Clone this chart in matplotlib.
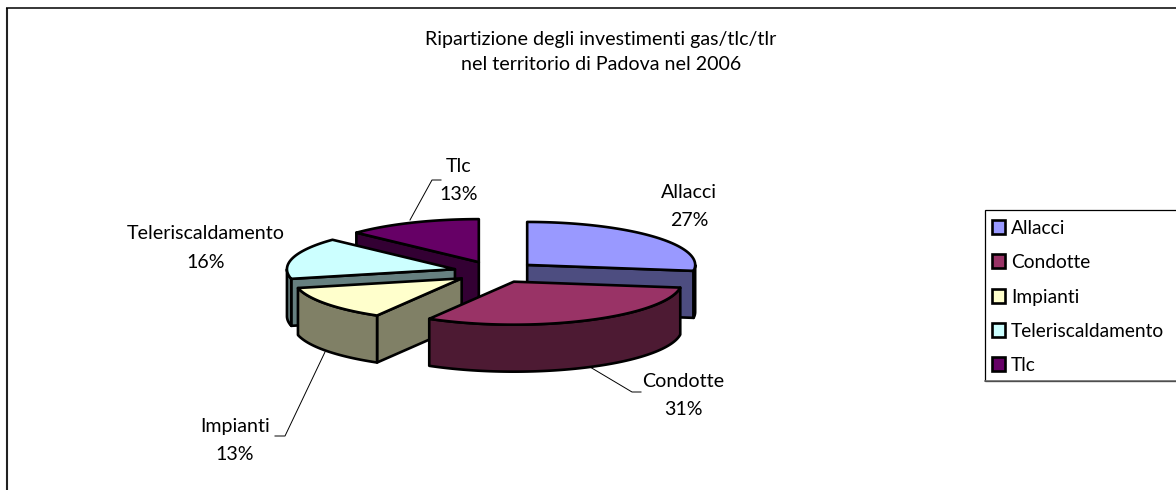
import numpy as np
import matplotlib
matplotlib.use("Agg")
import matplotlib.pyplot as plt
from matplotlib.patches import Polygon, Rectangle

plt.rcParams['font.family'] = ['Lato', 'DejaVu Sans']

title_lines = ["Ripartizione degli investimenti gas/tlc/tlr", "nel territorio di Padova nel 2006"]
categories = ["Allacci", "Condotte", "Impianti", "Teleriscaldamento", "Tlc"]
values = [27.2, 31.2, 13.0, 15.6, 13.0]
top_colors = ["#9999FF", "#993366", "#FFFFCC", "#CCFFFF", "#660066"]
side_colors = ["#4D4D80", "#4D1A33", "#808066", "#668080", "#330033"]

# layout (pixel space of the 1176x490 picture)
CX, CY, RX, RY, DEPTH, EXPLODE = 495.5, 272.0, 168.0, 43.0, 47.0, 0.25
LW = 1.9
FS = 14.1
DY = 1.5

fig = plt.figure(figsize=(11.76, 4.9), dpi=100, facecolor="white")
ax = fig.add_axes([0, 0, 1, 1])
ax.set_xlim(0, 1176)
ax.set_ylim(490, 0)
ax.axis("off")

# chart frame
ax.plot([6.5, 6.5], [490, 8], color="#222222", lw=1.5, solid_capstyle="butt")
ax.plot([6, 1176], [8, 8], color="black", lw=1.1, solid_capstyle="butt")


def rim(cx, cy, a0, a1, dz=0.0):
    """Rim points for clockwise-from-top angles (degrees)."""
    t = np.radians(np.linspace(a0, a1, max(2, int(abs(a1 - a0)) + 2)))
    return np.column_stack([cx + RX * np.sin(t), cy - RY * np.cos(t) + dz])


def draw_wedge(i, a0, a1):
    mid = np.radians((a0 + a1) / 2)
    cx = CX + EXPLODE * RX * np.sin(mid)
    cy = CY - EXPLODE * RY * np.cos(mid)
    style = dict(edgecolor="black", lw=LW, joinstyle="round")
    # cut faces turned towards the viewer
    for ang, normal in ((a0, a0 - 90), (a1, a1 + 90)):
        if np.cos(np.radians(normal)) < -1e-6:
            e = rim(cx, cy, ang, ang)[0]
            ax.add_patch(Polygon([(cx, cy), e, (e[0], e[1] + DEPTH), (cx, cy + DEPTH)],
                                 facecolor=side_colors[i], **style))
    # front outer wall
    w0, w1 = max(a0, 90), min(a1, 270)
    if w1 > w0:
        up = rim(cx, cy, w0, w1)
        down = rim(cx, cy, w0, w1, DEPTH)[::-1]
        ax.add_patch(Polygon(np.vstack([up, down]), facecolor=side_colors[i], **style))
    # top
    ax.add_patch(Polygon(np.vstack([[(cx, cy)], rim(cx, cy, a0, a1)]),
                         facecolor=top_colors[i], **style))


edges = np.concatenate([[0], np.cumsum(values)]) / sum(values) * 360
for i in [4, 3, 0, 2, 1]:
    draw_wedge(i, edges[i], edges[i + 1])

# leader lines
leaders = [([410, 432, 441], [220, 180, 180]),
           ([325, 285, 275], [352, 436, 436]),
           ([590, 632, 641], [367, 392, 392])]
for xs, ys in leaders:
    ax.plot(xs, ys, color="black", lw=0.7)

# title
ax.text(601, 38 + DY, title_lines[0], ha="center", va="center", fontsize=FS)
ax.text(601, 63 + DY, title_lines[1], ha="center", va="center", fontsize=FS)

# data labels
label_pos = [(689, 191, 219), (683, 380, 408), (235, 425, 453), (206, 232, 261), (459, 165, 193)]
for name, v, (x, y1, y2) in zip(categories, values, label_pos):
    ax.text(x, y1 + DY, name, ha="center", va="center", fontsize=FS)
    ax.text(x, y2 + DY, f"{v:.0f}%", ha="center", va="center", fontsize=FS)

# legend
ax.add_patch(Rectangle((984.5, 209.5), 200, 171, facecolor="white", edgecolor="black", lw=0.9))
ax.plot([984.5, 1176], [380.5, 380.5], color="#666666", lw=1.1)
rows = [227, 261, 296, 330, 364]
for name, c, y in zip(categories, top_colors, rows):
    ax.add_patch(Rectangle((992, y - 7), 13, 14, facecolor=c, edgecolor="black", lw=LW))
    ax.text(1011, y + DY, name, ha="left", va="center", fontsize=FS * 0.98)

fig.savefig("out.png", dpi=100, facecolor="white")
